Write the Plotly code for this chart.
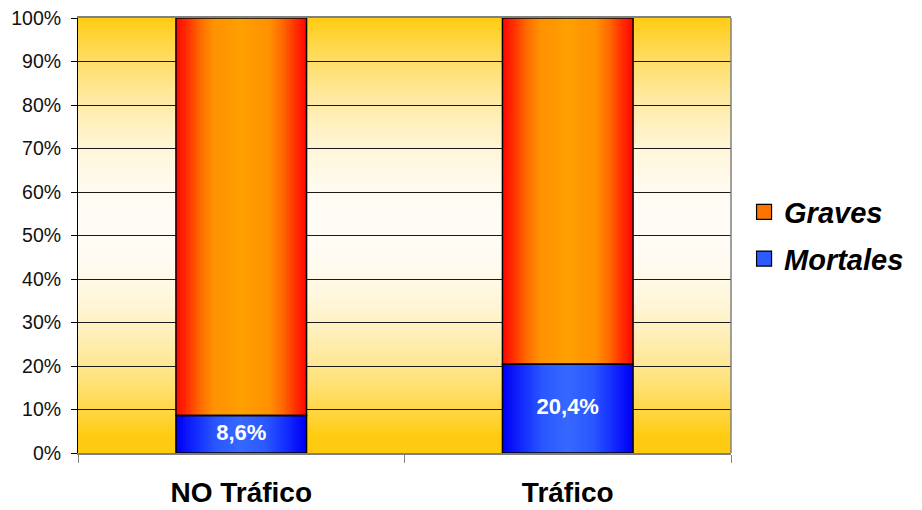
import plotly.graph_objects as go

categories = ["NO Tráfico", "Tráfico"]
mortales = [8.6, 20.4]
graves = [round(100 - v, 1) for v in mortales]
label_text = ["8,6%", "20,4%"]
y_ticks = [0, 10, 20, 30, 40, 50, 60, 70, 80, 90, 100]
y_ticktext = [f"{v}%" for v in y_ticks]

FONT = "Liberation Sans, Arial, sans-serif"
BAR_W = 0.40
STEPS = 30


def lerp(c1, c2, t):
    return tuple(round(a + (b - a) * t) for a, b in zip(c1, c2))


def multi_stop(stops, d):
    for (d0, c0), (d1, c1) in zip(stops, stops[1:]):
        if d0 <= d <= d1:
            return lerp(c0, c1, (d - d0) / (d1 - d0) if d1 > d0 else 0)
    return stops[-1][1]


orange_stops = [(0.0, (255, 160, 0)), (0.45, (255, 145, 0)), (0.65, (255, 105, 0)),
                (0.82, (255, 55, 0)), (1.0, (255, 10, 0))]
blue_stops = [(0.0, (55, 105, 255)), (0.4, (42, 88, 255)), (0.7, (20, 45, 255)),
              (1.0, (0, 0, 245))]

fig = go.Figure()

# background gradient (below gridlines)
shapes = []
N_BG = 100
for i in range(N_BG):
    p = (i + 0.5) * 100 / N_BG
    t = min(abs(p - 52) / 48, 1.0) ** 2
    c = lerp((255, 252, 246), (255, 203, 17), t)
    shapes.append(dict(type="rect", xref="x domain", yref="y", x0=0, x1=1,
                       y0=i * 100 / N_BG, y1=min((i + 1) * 100 / N_BG + 0.6, 100),
                       fillcolor=f"rgb{c}", line=dict(width=0), layer="below"))
shapes.append(dict(type="line", xref="x domain", yref="y domain", x0=1, x1=1, y0=0, y1=1,
                   line=dict(color="#808080", width=1.5), layer="above"))

# nested bars to imitate horizontal gradient
for k in range(STEPS):
    frac = 1 - k / STEPS
    w = BAR_W * frac
    cb = multi_stop(blue_stops, frac)
    co = multi_stop(orange_stops, frac)
    fig.add_trace(go.Bar(x=categories, y=mortales, base=[0, 0], width=w,
                         marker=dict(color=f"rgb{cb}", line=dict(width=0)),
                         name="Mortales", showlegend=False, hoverinfo="skip"))
    fig.add_trace(go.Bar(x=categories, y=graves, base=mortales, width=w,
                         marker=dict(color=f"rgb{co}", line=dict(width=0)),
                         name="Graves", showlegend=False, hoverinfo="skip"))

# outlines
fig.add_trace(go.Bar(x=categories, y=mortales, base=[0, 0], width=BAR_W,
                     marker=dict(color="rgba(0,0,0,0)", line=dict(color="black", width=1.5)),
                     showlegend=False, hoverinfo="skip"))
fig.add_trace(go.Bar(x=categories, y=graves, base=mortales, width=BAR_W,
                     marker=dict(color="rgba(0,0,0,0)", line=dict(color="black", width=1.5)),
                     showlegend=False, hoverinfo="skip"))

# legend entries
fig.add_trace(go.Scatter(x=[None], y=[None], name="Graves", legendrank=1, legendgroup="g",
                         mode="markers",
                         marker=dict(symbol="square", size=15, color="rgb(255,115,0)",
                                     line=dict(color="black", width=1.2))))
fig.add_trace(go.Scatter(x=[None], y=[None], name="Mortales", legendrank=2, legendgroup="m",
                         mode="markers",
                         marker=dict(symbol="square", size=15, color="rgb(45,90,255)",
                                     line=dict(color="black", width=1.2))))

# data labels
fig.add_trace(go.Scatter(x=categories, y=[v / 2 for v in mortales], mode="text",
                         text=label_text, showlegend=False, hoverinfo="skip",
                         textfont=dict(family=FONT, size=22, color="white", weight="bold")))

fig.update_layout(
    template="none",
    width=914, height=502,
    margin=dict(l=70, r=191, t=10, b=57, autoexpand=False),
    paper_bgcolor="white", plot_bgcolor="white",
    barmode="overlay",
    shapes=shapes,
    font=dict(family=FONT, color="#111"),
    legend=dict(x=1.02, xanchor="left", y=0.5, yanchor="middle",
                font=dict(family=FONT, size=29, color="black", weight="bold", style="italic"),
                bgcolor="rgba(0,0,0,0)", tracegroupgap=6, itemsizing="trace"),
    xaxis=dict(type="category", categoryorder="array", categoryarray=categories,
               range=[-0.5, 1.5], tickson="boundaries", ticks="outside", ticklen=8,
               tickcolor="#808080", showline=True, linecolor="#808080", linewidth=1.5,
               mirror=True, showgrid=False, ticklabelstandoff=14, automargin=False,
               tickfont=dict(family=FONT, size=28, color="black", weight="bold")),
    yaxis=dict(range=[0, 100], tickvals=y_ticks, ticktext=y_ticktext, ticks="outside",
               ticklen=6, tickcolor="black", showline=True, linecolor="black", linewidth=1,
               showgrid=True, gridcolor="#1a1a1a", gridwidth=1, zeroline=False,
               automargin=False, ticklabelstandoff=6, ticklabeloverflow="allow",
               tickfont=dict(family=FONT, size=19.5, color="#111")),
)

fig.write_html("out.html")
